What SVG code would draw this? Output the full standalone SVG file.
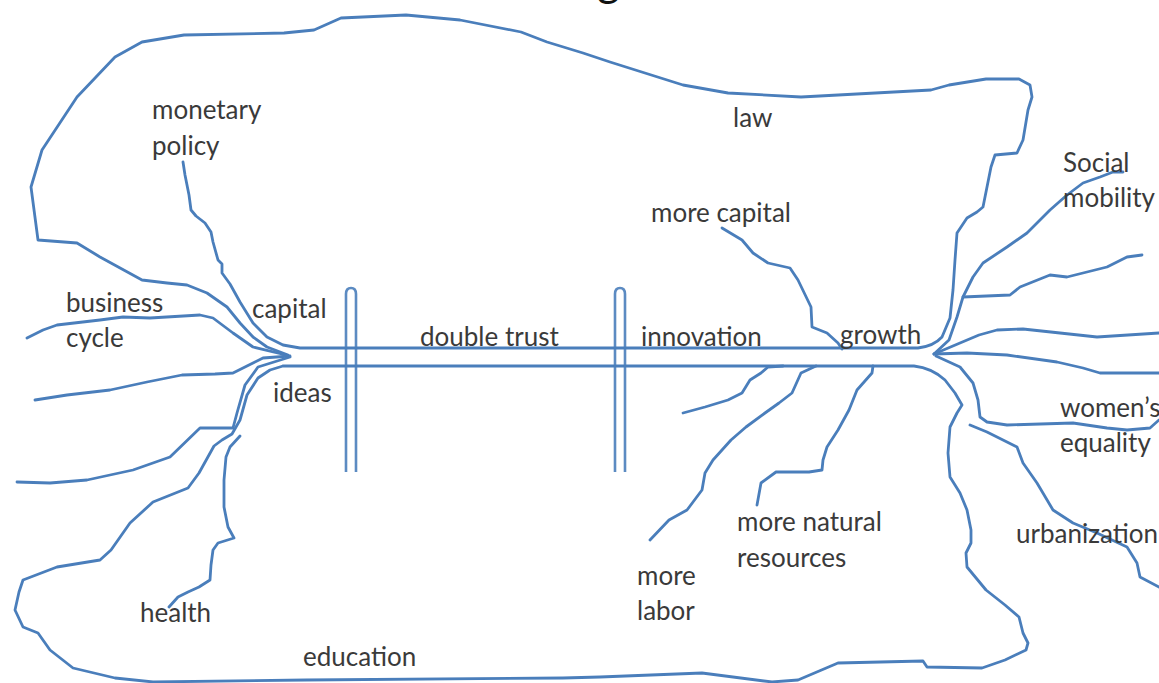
<svg xmlns="http://www.w3.org/2000/svg" width="1159" height="683" viewBox="0 0 1159 683">
<style>
.ln{fill:none;stroke:#4a7ebb;stroke-width:2.8;stroke-linejoin:round;stroke-linecap:round}
.bar{fill:none;stroke:#4a7ebb;stroke-width:2.6;stroke-opacity:0.9}
.t{font-family:Lato,"Open Sans","Liberation Sans",sans-serif;font-size:26px;fill:#3a3a3a}
</style>
<rect width="1159" height="683" fill="#ffffff"/>
<text x="597" y="-4" font-family="Lato,'Liberation Sans',sans-serif" font-size="44" fill="#111">g</text>
<g id="connectors">
<path id="upper-boundary" class="ln" d="M183,162 L185,175 L189,195 L191,210 L196,216 L205,223 L211,232 L213,242 L218,260 L222,264 L222,273 L230,284 L240,302 L253,323 L267,337 L283,345 L300,348 L918,348 Q934,346 942,337 L950,318 L953,290 L955,260 L957,233 L967,218 L977,212 L983,207 L991,167 L995,155 L1017,153 L1023,140 L1028,110 L1032,97 L1030,85 L1019,79 L986,79 L949,85 L931,90 L801,97 L728,93 L683,85 L610,62 L583,53 L547,42 L521,32 L460,20 L406,15 L341,18 L314,30 L284,33 L184,35 L142,42 L115,57 L77,97 L42,150 L31,187 L38,240 L77,243 L100,257 L142,280 L167,283 L187,285 L207,293 L227,307 L240,323 L253,337 L267,347 L288,355"/>
<path id="business-cycle" class="ln" d="M27,338 L43,330 L57,325 L100,320 L123,317 L150,318 L200,315 L213,318 L233,333 L253,347 L286,355"/>
<path id="line-d" class="ln" d="M35,400 L67,395 L110,390 L147,382 L182,375 L215,374 L233,373 L253,363 L263,358 L290,356"/>
<path id="line-e" class="ln" d="M17,482 L50,483 L87,480 L133,470 L170,457 L200,428 L233,428 L237,413 L245,385 L258,367 L290,357"/>
<path id="lower-boundary" class="ln" d="M283,366 L914,366 Q932,368 945,380 L955,393 L962,405 L957,413 L950,427 L948,453 L950,477 L960,493 L967,510 L971,530 L971,543 L966,553 L967,567 L986,590 L1005,605 L1019,617 L1023,633 L1028,643 L1026,650 L1005,660 L982,668 L927,667 L923,661 L838,663 L798,680 L772,682 L702,673 L600,677 L563,678 L306,680 L153,682 L115,678 L73,668 L50,650 L38,633 L23,627 L15,610 L19,592 L23,580 L57,567 L100,560 L111,550 L130,523 L153,502 L188,488 L199,473 L214,446 L222,440 L232,434 L240,420 L247,395 L258,378 L270,370 L283,366"/>
<path id="health-line" class="ln" d="M240,436 L230,447 L226,457 L224,480 L224,507 L228,527 L234,538 L218,543 L213,550 L211,565 L210,580 L199,587 L188,592 L178,597 L169,607"/>
<path id="social-mobility-line" class="ln" d="M934,354 L949,340 L957,317 L963,297 L973,277 L983,263 L1007,247 L1027,233 L1050,210 L1067,195 L1083,183 L1100,177 L1113,172 L1123,172"/>
<path id="right-line-1" class="ln" d="M963,297 L1010,295 L1020,287 L1050,275 L1067,277 L1083,273 L1107,267 L1127,257 L1142,255"/>
<path id="right-line-2" class="ln" d="M934,354 L960,343 L979,335 L997,330 L1023,329 L1060,333 L1097,337 L1159,333"/>
<path id="right-line-3" class="ln" d="M934,354 L967,353 L1007,355 L1057,362 L1083,368 L1100,373 L1159,373"/>
<path id="womens-equality-line" class="ln" d="M936,356 L960,367 L973,383 L978,400 L980,417 L987,422 L1007,425 L1073,423 L1107,428 L1127,430 L1150,428 L1159,420"/>
<path id="urbanization-line" class="ln" d="M970,425 L987,432 L1017,447 L1023,463 L1037,483 L1053,510 L1073,523 L1097,533 L1127,547 L1137,563 L1140,577 L1159,587"/>
<path id="short-line" class="ln" d="M783,366 L768,367 L761,373 L750,380 L742,393 L728,400 L705,407 L683,413"/>
<path id="more-labor-line" class="ln" d="M816,366 L801,373 L792,393 L779,403 L765,413 L746,427 L731,440 L713,460 L705,473 L702,490 L687,510 L669,520 L650,540"/>
<path id="natural-resources-line" class="ln" d="M873,366 L872,373 L857,390 L849,410 L838,430 L827,447 L823,460 L822,470 L809,472 L776,472 L761,483 L757,505"/>
<path id="more-capital-line" class="ln" d="M722,228 L742,240 L753,253 L768,263 L790,268 L798,280 L811,307 L812,327 L827,333 L838,343 L842,349"/>
<path id="bar-1" class="bar" d="M346,472 L346,294 Q346,288 351,288 Q356,288 356,294 L356,472"/>
<path id="bar-2" class="bar" d="M615,472 L615,294 Q615,288 620,288 Q625,288 625,294 L625,472"/>
</g>
<g id="labels">
<g id="n-monetary-policy"><text class="t" x="152" y="119">monetary</text><text class="t" x="152" y="155">policy</text></g>
<g id="n-law"><text class="t" x="733" y="127">law</text></g>
<g id="n-social-mobility"><text class="t" x="1063" y="172">Social</text><text class="t" x="1063" y="207">mobility</text></g>
<g id="n-more-capital"><text class="t" x="651" y="222">more capital</text></g>
<g id="n-business-cycle"><text class="t" x="66" y="312">business</text><text class="t" x="66" y="347">cycle</text></g>
<g id="n-capital"><text class="t" x="252" y="318">capital</text></g>
<g id="n-double-trust"><text class="t" x="420" y="346">double trust</text></g>
<g id="n-innovation"><text class="t" x="641" y="346">innovation</text></g>
<g id="n-growth"><text class="t" x="840" y="344">growth</text></g>
<g id="n-ideas"><text class="t" x="273" y="402">ideas</text></g>
<g id="n-womens-equality"><text class="t" x="1060" y="417">women’s</text><text class="t" x="1060" y="452">equality</text></g>
<g id="n-more-natural-resources"><text class="t" x="737" y="531">more natural</text><text class="t" x="737" y="567">resources</text></g>
<g id="n-urbanization"><text class="t" x="1016" y="543">urbanization</text></g>
<g id="n-more-labor"><text class="t" x="637" y="585">more</text><text class="t" x="637" y="620">labor</text></g>
<g id="n-health"><text class="t" x="140" y="622">health</text></g>
<g id="n-education"><text class="t" x="303" y="666">education</text></g>
</g>
</svg>
